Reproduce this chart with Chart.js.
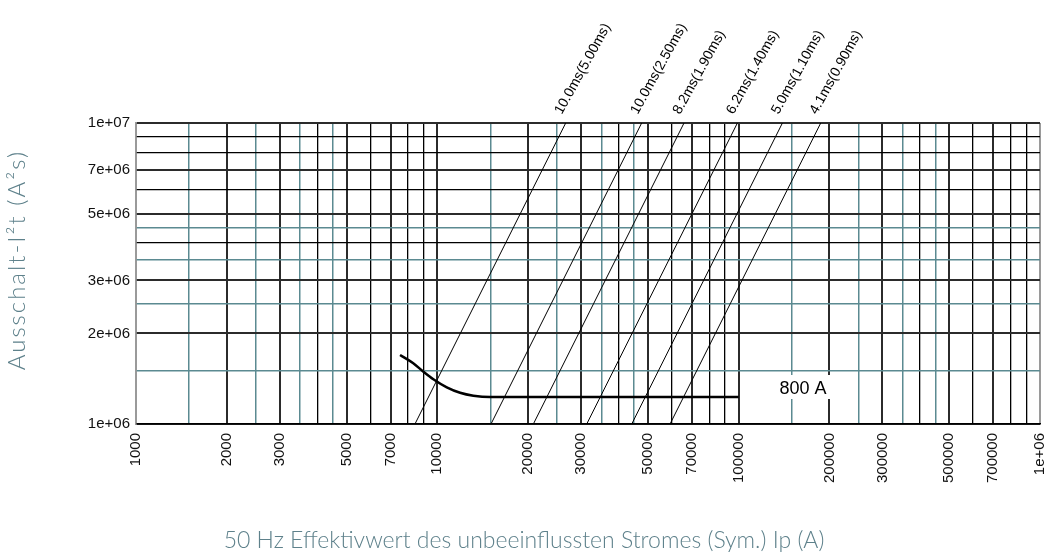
<!DOCTYPE html>
<html>
<head>
<meta charset="utf-8">
<script src="https://cdn.jsdelivr.net/npm/chart.js@4"></script>
<style>
  html, body { margin: 0; padding: 0; background: #fff; }
</style>
</head>
<body>
<canvas id="chart" width="1048" height="556"></canvas>
<script>
// grid / tick positions
var xTickValues = [1000, 1500, 2000, 2500, 3000, 3500, 4000, 4500, 5000, 6000, 7000, 8000, 9000,
  10000, 15000, 20000, 25000, 30000, 35000, 40000, 45000, 50000, 60000, 70000, 80000, 90000,
  100000, 150000, 200000, 250000, 300000, 350000, 400000, 450000, 500000, 600000, 700000, 800000, 900000, 1000000];
var xLabelValues = [1000, 2000, 3000, 5000, 7000, 10000, 20000, 30000, 50000, 70000, 100000, 200000, 300000, 500000, 700000, 1000000];
var xLabelTexts = ['1000', '2000', '3000', '5000', '7000', '10000', '20000', '30000', '50000', '70000', '100000', '200000', '300000', '500000', '700000', '1e+06'];
var yTickValues = [1e6, 1.5e6, 2e6, 2.5e6, 3e6, 3.5e6, 4e6, 4.5e6, 5e6, 6e6, 7e6, 8e6, 9e6, 1e7];
var yLabelValues = [1e6, 2e6, 3e6, 5e6, 7e6, 1e7];
var yLabelTexts = ['1e+06', '2e+06', '3e+06', '5e+06', '7e+06', '1e+07'];

// let-through lines: current (A) where each line crosses 1e6 and 1e7 A2s
var tripNames = ['10.0ms(5.00ms)', '10.0ms(2.50ms)', '8.2ms(1.90ms)', '6.2ms(1.40ms)', '5.0ms(1.10ms)', '4.1ms(0.90ms)'];
var tripLow = [8430, 15070, 20830, 31320, 44180, 59200];
var tripHigh = [26670, 47650, 65870, 99040, 139700, 187200];

// 800 A curve
var curveI = [7520, 8320, 8990, 9700, 10750, 11900, 13170, 14960, 100000];
var curveI2t = [1.695e6, 1.591e6, 1.492e6, 1.408e6, 1.324e6, 1.270e6, 1.242e6, 1.229e6, 1.229e6];
var curveName = '800 A';
var curveLabelAt = [163600, 1.307e6];

var titleColor = '#5e818b';

function isHalf(v) {
  var m = v / Math.pow(10, Math.floor(Math.log10(v) + 1e-9));
  return Math.abs(m - Math.round(m)) > 0.1;
}
function gridColor(v, labels, edges) {
  if (edges.indexOf(v) >= 0) return '#9a9a9a';
  if (isHalf(v)) return '#5b8a91';
  if (labels.indexOf(v) >= 0) return '#2b2b2b';
  return '#000';
}
function gridWidth(v, labels) {
  if (isHalf(v)) return 1.5;
  if (labels.indexOf(v) >= 0) return 2;
  return 1.3;
}

var datasets = tripNames.map(function (name, i) {
  return {
    label: name,
    data: [{ x: tripLow[i], y: 1e6 }, { x: tripHigh[i], y: 1e7 }],
    borderColor: '#000',
    borderWidth: 1,
    pointRadius: 0,
    fill: false
  };
});
datasets.push({
  label: curveName,
  data: curveI.map(function (v, i) { return { x: v, y: curveI2t[i] }; }),
  borderColor: '#000',
  borderWidth: 2.5,
  pointRadius: 0,
  cubicInterpolationMode: 'monotone',
  fill: false
});

var labelPlugin = {
  id: 'labels',
  afterDatasetsDraw: function (chart) {
    var ctx = chart.ctx, xs = chart.scales.x, ys = chart.scales.y;
    ctx.save();
    ctx.font = '14px "Liberation Sans", Arial, sans-serif';
    ctx.fillStyle = '#000';
    ctx.textAlign = 'left';
    ctx.textBaseline = 'alphabetic';
    tripNames.forEach(function (name, i) {
      var px = xs.getPixelForValue(tripHigh[i]);
      var py = ys.getPixelForValue(1e7);
      ctx.save();
      ctx.translate(px - 4, py - 8);
      ctx.rotate(-61 * Math.PI / 180);
      ctx.fillText(name, 0, 0);
      ctx.restore();
    });
    var cx = xs.getPixelForValue(curveLabelAt[0]);
    var cy = ys.getPixelForValue(curveLabelAt[1]);
    ctx.font = '18px "Liberation Sans", Arial, sans-serif';
    var w = ctx.measureText(curveName).width;
    ctx.fillStyle = '#fff';
    ctx.fillRect(cx - w / 2 - 5, cy - 14, w + 10, 24);
    ctx.fillStyle = '#000';
    ctx.textAlign = 'center';
    ctx.textBaseline = 'middle';
    ctx.fillText(curveName, cx, cy);

    // axis titles
    ctx.fillStyle = titleColor;
    ctx.font = '300 23px Lato, "Open Sans", sans-serif';
    ctx.fillText('50 Hz Effektivwert des unbeeinflussten Stromes (Sym.) Ip (A)', chart.width / 2, 541);
    ctx.save();
    ctx.translate(17, 260);
    ctx.rotate(-Math.PI / 2);
    ctx.font = '300 24px Lato, "Open Sans", sans-serif';
    ctx.letterSpacing = '2px';
    ctx.fillText('Ausschalt-I²t (A²s)', 0, 0);
    ctx.restore();
    ctx.restore();
  }
};

var tickFont = { family: '"Liberation Sans", Arial, sans-serif', size: 15 };

var chart = new Chart(document.getElementById('chart').getContext('2d'), {
  type: 'line',
  data: { datasets: datasets },
  options: {
    responsive: false,
    animation: false,
    layout: { padding: { top: 123, right: 8, left: 0, bottom: 0 } },
    plugins: { legend: { display: false }, tooltip: { enabled: false } },
    scales: {
      x: {
        type: 'logarithmic',
        min: 1000,
        max: 1000000,
        afterBuildTicks: function (s) { s.ticks = xTickValues.map(function (v) { return { value: v }; }); },
        afterFit: function (s) { s.height = 132; s.paddingLeft = 0; s.paddingRight = 0; },
        ticks: {
          autoSkip: false,
          minRotation: 90,
          maxRotation: 90,
          padding: 9,
          color: '#111',
          font: tickFont,
          callback: function (v) { var i = xLabelValues.indexOf(v); return i < 0 ? '' : xLabelTexts[i]; }
        },
        grid: {
          drawTicks: false,
          color: function (c) { return gridColor(c.tick.value, xLabelValues, [1000, 1000000]); },
          lineWidth: function (c) { return gridWidth(c.tick.value, xLabelValues); }
        },
        border: { color: '#000', width: 1.5 }
      },
      y: {
        type: 'logarithmic',
        min: 1e6,
        max: 1e7,
        afterBuildTicks: function (s) { s.ticks = yTickValues.map(function (v) { return { value: v }; }); },
        afterFit: function (s) { s.width = 136; s.paddingTop = 0; s.paddingBottom = 0; },
        ticks: {
          autoSkip: false,
          padding: 6,
          color: '#111',
          font: tickFont,
          callback: function (v) { var i = yLabelValues.indexOf(v); return i < 0 ? '' : yLabelTexts[i]; }
        },
        grid: {
          drawTicks: false,
          color: function (c) { return gridColor(c.tick.value, yLabelValues, []); },
          lineWidth: function (c) { return gridWidth(c.tick.value, yLabelValues); }
        },
        border: { color: '#9a9a9a', width: 1.5 }
      }
    }
  },
  plugins: [labelPlugin]
});
</script>
</body>
</html>
